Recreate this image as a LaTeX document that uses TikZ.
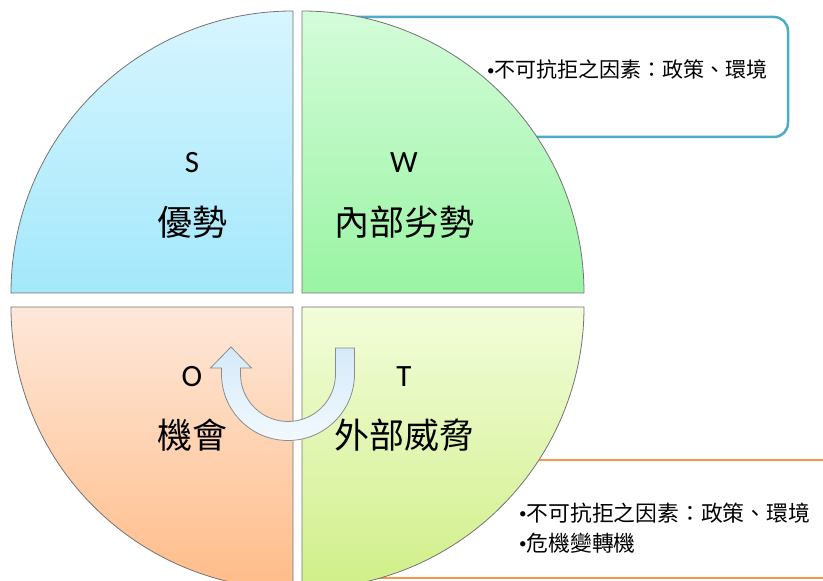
\documentclass[tikz,border=0pt]{standalone}
\usepackage{fontspec}
\setmainfont{Carlito}
\newfontfamily\cjk{Noto Sans CJK TC}
\definecolor{sTop}{HTML}{D7F5FF}
\definecolor{sBot}{HTML}{A3E8FB}
\definecolor{wTop}{HTML}{D4FCD9}
\definecolor{wBot}{HTML}{99F4A3}
\definecolor{oTop}{HTML}{FEE8DA}
\definecolor{oBot}{HTML}{FFBC88}
\definecolor{tTop}{HTML}{F2FDDA}
\definecolor{tBot}{HTML}{D0EF88}
\definecolor{noteBlue}{HTML}{4BACC6}
\definecolor{noteOrange}{HTML}{F79646}
\definecolor{arrowTop}{HTML}{D4EAF8}
\definecolor{arrowBot}{HTML}{F2F9FE}
\newcommand{\bul}{\raisebox{2.5pt}{\rmfamily\fontsize{15}{15}\selectfont\textbullet}}

\begin{document}
\begin{tikzpicture}[x=1pt, y=1pt,
  quad/.style={draw=black!55, line width=0.8pt},
  letter/.style={font=\fontsize{31}{36}\selectfont},
  word/.style={font=\cjk\fontsize{35}{40}\selectfont},
  note/.style={font=\cjk\fontsize{21}{25}\selectfont, anchor=west, inner sep=0pt}]
  \useasboundingbox (0,0) rectangle (823,581);

  % Callout boxes (behind the circle)
  \draw[noteBlue, line width=2.5pt, fill=white, rounded corners=14pt] (320,444) rectangle (788,564);
  \draw[noteOrange, line width=2pt, fill=white] (360,3) rectangle (850,121);

  % Quadrants
  \draw[quad, top color=sTop, bottom color=sBot] (293,288) -- (11,288) arc[start angle=180, end angle=90, radius=282] -- cycle;
  \draw[quad, top color=wTop, bottom color=wBot] (302,288) -- (302,570) arc[start angle=90, end angle=0, radius=282] -- cycle;
  \draw[quad, top color=oTop, bottom color=oBot] (293,274) -- (293,-8) arc[start angle=270, end angle=180, radius=282] -- cycle;
  \draw[quad, top color=tTop, bottom color=tBot] (302,274) -- (584,274) arc[start angle=0, end angle=-90, radius=282] -- cycle;

  % Labels
  \node[letter] (sLetter) at (192,418) {S};
  \node[word] (sWord) at (192,359) {優勢};
  \node[letter] (wLetter) at (404,418) {W};
  \node[word] (wWord) at (404,359) {內部劣勢};
  \node[letter] (oLetter) at (192,204) {O};
  \node[word] (oWord) at (192,146) {機會};
  \node[letter] (tLetter) at (404,204) {T};
  \node[word] (tWord) at (404,146) {外部威脅};

  % U-turn arrow from T to O
  \draw[draw=black!45, line width=0.8pt, top color=arrowTop, bottom color=arrowBot]
    (354.5,233) -- (354.5,207) arc[start angle=0, end angle=-180, radius=66.5]
    -- (221.5,213) -- (210.5,213) -- (231,234) -- (251.5,213) -- (240.5,213)
    -- (240.5,207) arc[start angle=180, end angle=360, radius=47.5]
    -- (335.5,233) -- cycle;

  % Notes
  \node[note] (wNote) at (487,511) {\bul 不可抗拒之因素：政策、環境};
  \node[note, font=\cjk\fontsize{21.8}{26}\selectfont] (tNote1) at (519,68) {\bul 不可抗拒之因素：政策、環境};
  \node[note, font=\cjk\fontsize{21.8}{26}\selectfont] (tNote2) at (519,38) {\bul 危機變轉機};
\end{tikzpicture}
\end{document}
